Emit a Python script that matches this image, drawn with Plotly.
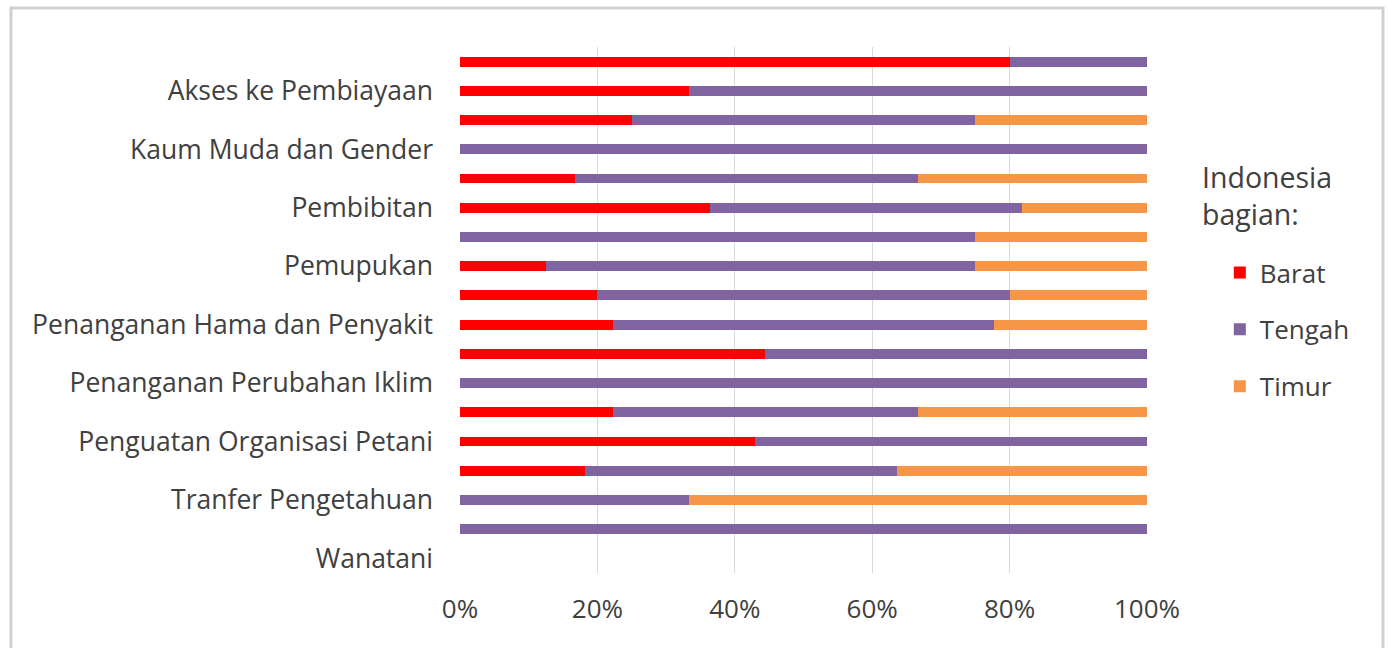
import plotly.graph_objects as go

# Rows listed from top to bottom; unnamed rows carry no axis label
row_labels = [
    "", "Akses ke Pembiayaan",
    "", "Kaum Muda dan Gender",
    "", "Pembibitan",
    "", "Pemupukan",
    "", "Penanganan Hama dan Penyakit",
    "", "Penanganan Perubahan Iklim",
    "", "Penguatan Organisasi Petani",
    "", "Tranfer Pengetahuan",
    "", "Wanatani",
]

# Share of each region per row (percent)
barat = [80.0, 33.3, 25.0, 0.0, 16.7, 36.4, 0.0, 12.5, 20.0,
         22.2, 44.4, 0.0, 22.2, 42.9, 18.2, 0.0, 0.0, 0.0]
tengah = [20.0, 66.7, 50.0, 100.0, 50.0, 45.4, 75.0, 62.5, 60.0,
          55.6, 55.6, 100.0, 44.5, 57.1, 45.4, 33.3, 100.0, 0.0]
timur = [0.0, 0.0, 25.0, 0.0, 33.3, 18.2, 25.0, 25.0, 20.0,
         22.2, 0.0, 0.0, 33.3, 0.0, 36.4, 66.7, 0.0, 0.0]

x_ticks = [0, 20, 40, 60, 80, 100]
x_tick_text = ["0%", "20%", "40%", "60%", "80%", "100%"]

legend_title = "Indonesia<br>bagian:"

series = [
    ("Barat", barat, "#FF0000"),
    ("Tengah", tengah, "#8064A2"),
    ("Timur", timur, "#F79646"),
]

positions = list(range(len(row_labels)))
label_pos = [p for p, t in zip(positions, row_labels) if t]
label_txt = [t for t in row_labels if t]

FONT = "Open Sans"
TEXT = "#404040"

fig = go.Figure()
for name, vals, color in series:
    fig.add_trace(go.Bar(
        y=positions, x=vals, name=name, orientation="h",
        marker=dict(color=color, line=dict(width=0)),
        legendgroup=name,
    ))

fig.update_layout(
    width=1389, height=648,
    barmode="stack", bargap=0.66,
    paper_bgcolor="white", plot_bgcolor="white",
    margin=dict(l=460, r=242, t=47, b=75),
    font=dict(family=FONT, size=26, color=TEXT),
    xaxis=dict(
        range=[0, 100], tickvals=x_ticks, ticktext=x_tick_text,
        showgrid=True, gridcolor="#D9D9D9", gridwidth=1,
        zeroline=False, showline=False, ticks="",
        ticklabelstandoff=18,
        tickfont=dict(family=FONT, size=26, color=TEXT),
        fixedrange=True,
    ),
    yaxis=dict(
        range=[len(row_labels) - 0.5, -0.5],
        tickvals=label_pos, ticktext=label_txt,
        showgrid=False, zeroline=False, showline=False, ticks="",
        ticklabelstandoff=26,
        tickfont=dict(family=FONT, size=26.5, color=TEXT),
        fixedrange=True,
    ),
    legend=dict(
        traceorder="grouped", tracegroupgap=20,
        x=1.106, xanchor="left", y=0.6157, yanchor="top",
        font=dict(family=FONT, size=26, color=TEXT),
        bgcolor="rgba(0,0,0,0)",
    ),
    annotations=[dict(
        text=legend_title, xref="paper", yref="paper",
        x=1.0768, y=0.7924, xanchor="left", yanchor="top",
        align="left", showarrow=False,
        font=dict(family=FONT, size=28.5, color=TEXT),
    )],
    shapes=[dict(
        type="rect", xref="paper", yref="paper",
        x0=-0.6536, x1=1.3435, y0=-0.2, y1=1.0741,
        line=dict(color="#D0D0D0", width=3), fillcolor="rgba(0,0,0,0)",
        layer="below",
    )],
)

fig.write_html("out.html")
